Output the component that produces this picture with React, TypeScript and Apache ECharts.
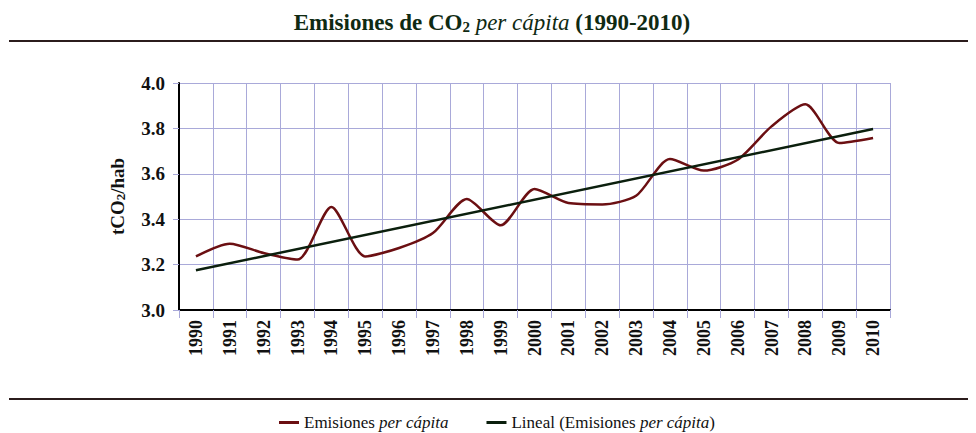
import React, { useEffect, useRef } from "react";
import * as echarts from "echarts";

const years = ["1990","1991","1992","1993","1994","1995","1996","1997","1998","1999","2000","2001","2002","2003","2004","2005","2006","2007","2008","2009","2010"];
const emissions = [3.236, 3.292, 3.251, 3.222, 3.454, 3.236, 3.273, 3.339, 3.489, 3.373, 3.533, 3.471, 3.465, 3.503, 3.665, 3.614, 3.662, 3.809, 3.906, 3.736, 3.758];
// linear trend endpoints (1990 and 2010)
const trendStart = 3.175;
const trendEnd = 3.797;
const yTicks = { min: 3.0, max: 4.0, step: 0.2 };

const SERIF = "'Liberation Serif', 'DejaVu Serif', serif";

export default function App() {
  const ref = useRef<HTMLDivElement>(null);
  useEffect(() => {
    if (!ref.current) return;
    const chart = echarts.init(ref.current, undefined, { renderer: "svg" });
    const trend = years.map((_, i) => (i === 0 ? trendStart : i === years.length - 1 ? trendEnd : null));
    chart.setOption({
      animation: false,
      backgroundColor: "#ffffff",
      title: {
        text: "{b|Emisiones de CO}{s|2}{i| per cápita}{b| (1990-2010)}",
        left: "center",
        top: 0,
        padding: 0,
        textStyle: {
          rich: {
            b: { fontFamily: SERIF, fontSize: 23, fontWeight: "bold", color: "#0f2a12", lineHeight: 26, verticalAlign: "bottom" },
            s: { fontFamily: SERIF, fontSize: 15, fontWeight: "bold", color: "#0f2a12", lineHeight: 4, verticalAlign: "bottom" },
            i: { fontFamily: SERIF, fontSize: 23, fontStyle: "italic", fontWeight: "normal", color: "#0f2a12", lineHeight: 26, verticalAlign: "bottom" },
          },
        },
      },
      graphic: [
        { type: "line", shape: { x1: 1, y1: 33, x2: 968, y2: 33 }, style: { stroke: "#2b1c1c", lineWidth: 2 } },
        { type: "line", shape: { x1: 1, y1: 391, x2: 968, y2: 391 }, style: { stroke: "#2b1c1c", lineWidth: 2 } },
      ],
      legend: {
        left: 266,
        top: 401,
        itemGap: 38,
        itemWidth: 20,
        itemHeight: 3,
        icon: "rect",
        data: [
          { name: "Emisiones per cápita" },
          { name: "Lineal (Emisiones per cápita)" },
        ],
        formatter: (name: string) =>
          name === "Emisiones per cápita"
            ? "{n|Emisiones }{i|per cápita}"
            : "{n|Lineal (Emisiones }{i|per cápita}{n|)}",
        textStyle: {
          rich: {
            n: { fontFamily: SERIF, fontSize: 17, color: "#111" },
            i: { fontFamily: SERIF, fontSize: 17, fontStyle: "italic", color: "#111" },
          },
        },
      },
      grid: { left: 171, right: 86, top: 75, bottom: 123, containLabel: false },
      xAxis: {
        type: "category",
        data: years,
        boundaryGap: true,
        axisLine: { show: true, lineStyle: { color: "#000", width: 2 } },
        axisTick: { show: true, length: 8, interval: 0, lineStyle: { color: "#a9a9d9" } },
        splitLine: { show: true, interval: 0, lineStyle: { color: "#a9a9d9", width: 1 } },
        axisLabel: {
          interval: 0,
          rotate: 90,
          margin: 10,
          fontFamily: SERIF,
          fontSize: 18,
          fontWeight: "bold",
          color: "#111",
        },
      },
      yAxis: {
        type: "value",
        min: yTicks.min,
        max: yTicks.max,
        interval: yTicks.step,
        name: "{t|tCO}{s|2}{t|/hab}",
        nameLocation: "middle",
        nameGap: 52,
        nameRotate: 90,
        nameTextStyle: {
          rich: {
            t: { fontFamily: SERIF, fontSize: 19, fontWeight: "bold", color: "#111", lineHeight: 22, verticalAlign: "bottom" },
            s: { fontFamily: SERIF, fontSize: 13, fontWeight: "bold", color: "#111", lineHeight: 4, verticalAlign: "bottom" },
          },
        },
        axisLine: { show: true, lineStyle: { color: "#000", width: 2 } },
        axisTick: { show: true, length: 6, lineStyle: { color: "#a9a9d9" } },
        splitLine: { show: true, lineStyle: { color: "#a9a9d9", width: 1 } },
        axisLabel: {
          margin: 14,
          fontFamily: SERIF,
          fontSize: 19,
          fontWeight: "bold",
          color: "#111",
          formatter: (v: number) => v.toFixed(1),
        },
      },
      series: [
        {
          name: "Emisiones per cápita",
          type: "line",
          data: emissions,
          smooth: 0.25,
          showSymbol: false,
          symbol: "none",
          lineStyle: { color: "#6b0f12", width: 2.5 },
          itemStyle: { color: "#6b0f12" },
          z: 3,
        },
        {
          name: "Lineal (Emisiones per cápita)",
          type: "line",
          data: trend,
          connectNulls: true,
          showSymbol: false,
          symbol: "none",
          lineStyle: { color: "#0b1f0d", width: 2.5 },
          itemStyle: { color: "#0b1f0d" },
          z: 4,
        },
      ],
    });
    return () => chart.dispose();
  }, []);
  return <div ref={ref} style={{ width: 968, height: 425 }} />;
}
